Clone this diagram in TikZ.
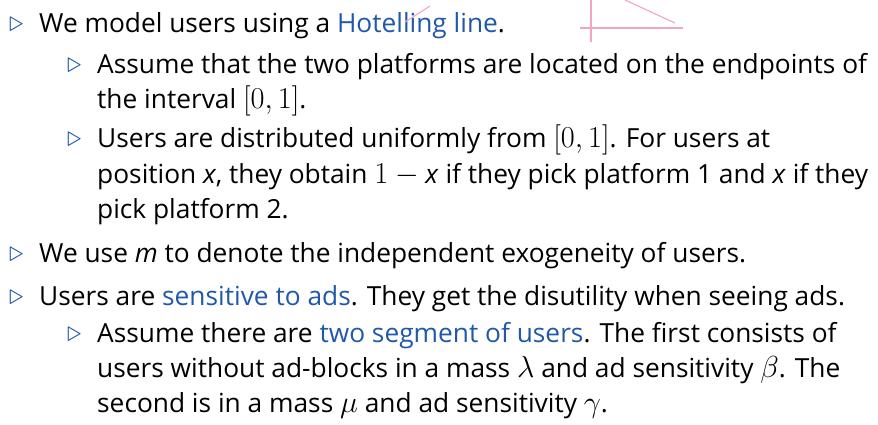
\documentclass[tikz,border=0pt]{standalone}
\usepackage{fontspec}
\setmainfont{Open Sans}
\usetikzlibrary{positioning}
\definecolor{linkblue}{RGB}{32,88,170}
\definecolor{inkpink}{RGB}{244,164,192}
\newcommand{\lnk}[1]{\textcolor{linkblue}{#1}}
\newcommand{\mth}[1]{\scalebox{1.22}{$#1$}}

\begin{document}
\begin{tikzpicture}[x=1pt,y=-1pt,
  txt/.style={anchor=base west,inner sep=0pt,font=\fontsize{26.3}{36}\selectfont},
  tri/.style={anchor=base west,inner sep=0pt,text=linkblue,font=\fontsize{26.3}{36}\selectfont},
  ink/.style={draw=inkpink,line width=1.1pt}]
  \useasboundingbox (0,0) rectangle (878,424);

  % first level
  \node[tri] (b1) at (9,31) {\scalebox{1.18}{$\triangleright$}};
  \node[txt] (t1) at (39,32) {We model users using a \lnk{Hotelling line}.};
  % second level
  \node[tri] (b11) at (67,72) {\scalebox{1.18}{$\triangleright$}};
  \node[txt] (t11a) at (97,73) {Assume that the two platforms are located on the endpoints of};
  \node[txt] (t11b) at (97,108) {the interval \mth{[0,1]}.};
  \node[tri] (b12) at (67,146) {\scalebox{1.18}{$\triangleright$}};
  \node[txt] (t12a) at (97,147) {Users are distributed uniformly from \mth{[0,1]}. For users at};
  \node[txt] (t12b) at (97,183) {position \textit{x}, they obtain \mth{1-{}}\textit{x} if they pick platform 1 and \textit{x} if they};
  \node[txt] (t12c) at (97,218) {pick platform 2.};
  % first level
  \node[tri] (b2) at (9,261) {\scalebox{1.18}{$\triangleright$}};
  \node[txt] (t2) at (39,262) {We use \textit{m} to denote the independent exogeneity of users.};
  \node[tri] (b3) at (9,304) {\scalebox{1.18}{$\triangleright$}};
  \node[txt] (t3) at (39,305) {Users are \lnk{sensitive to ads}. They get the disutility when seeing ads.};
  \node[tri] (b31) at (67,341) {\scalebox{1.18}{$\triangleright$}};
  \node[txt] (t31a) at (97,342) {Assume there are \lnk{two segment of users}. The first consists of};
  \node[txt] (t31b) at (97,377) {users without ad-blocks in a mass \mth{\lambda} and ad sensitivity \mth{\beta}. The};
  \node[txt] (t31c) at (97,412) {second is in a mass \mth{\mu} and ad sensitivity \mth{\gamma}.};

  % pen marks
  \draw[ink] (405,22) -- (430,6);
  \draw[ink] (591,0) -- (591,42);
  \draw[ink] (580,28) -- (683,28);
  \draw[ink] (625,0) -- (675,23);
\end{tikzpicture}
\end{document}
